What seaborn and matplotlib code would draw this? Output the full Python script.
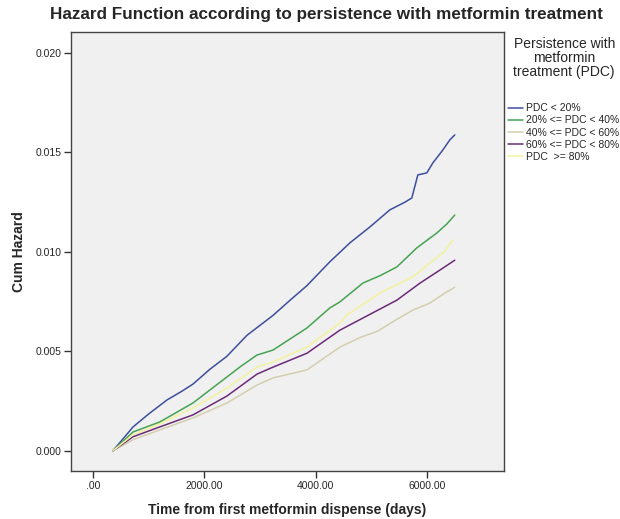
import matplotlib
matplotlib.use("Agg")
import matplotlib.pyplot as plt
import seaborn as sns
import pandas as pd

# days since first dispense / cumulative hazard
days_lt20 = [359, 717, 1000, 1327, 1600, 1794, 2100, 2404, 2762, 3229, 3550, 3839,
             4251, 4610, 4969, 5327, 5600, 5722, 5830, 5991, 6099, 6278, 6404, 6493]
haz_lt20 = [0.0, 0.00119, 0.00185, 0.00255, 0.00300, 0.00335, 0.00410, 0.00475, 0.00580,
            0.00680, 0.00760, 0.00830, 0.00950, 0.01045, 0.01125, 0.01211, 0.01250,
            0.01271, 0.01387, 0.01397, 0.01447, 0.01512, 0.01563, 0.01588]

days_20_40 = [359, 717, 1202, 1794, 2404, 2637, 2942, 3229, 3839, 4251, 4430,
              4843, 5150, 5453, 5812, 6171, 6350, 6493]
haz_20_40 = [0.0, 0.00094, 0.00145, 0.00240, 0.00371, 0.00421, 0.00481, 0.00506,
             0.00617, 0.00718, 0.00748, 0.00843, 0.00880, 0.00924, 0.01020, 0.01095,
             0.01140, 0.01185]

days_40_60 = [359, 717, 1202, 1794, 2404, 2942, 3229, 3839, 4430, 4800, 5100,
              5450, 5740, 6045, 6300, 6493]
haz_40_60 = [0.0, 0.00055, 0.00105, 0.00165, 0.00240, 0.00330, 0.00366, 0.00406,
             0.00521, 0.00570, 0.00600, 0.00660, 0.00707, 0.00742, 0.00790, 0.00822]

days_60_80 = [359, 717, 1202, 1794, 2404, 2942, 3229, 3839, 4430, 4843, 5453,
              5865, 6224, 6493]
haz_60_80 = [0.0, 0.00070, 0.00120, 0.00180, 0.00275, 0.00385, 0.00420, 0.00490,
             0.00606, 0.00667, 0.00757, 0.00842, 0.00908, 0.00958]

days_ge80 = [359, 717, 1202, 1794, 2404, 2942, 3229, 3839, 4430, 4556, 5148,
             5740, 6045, 6300, 6458]
haz_ge80 = [0.0, 0.00080, 0.00135, 0.00215, 0.00315, 0.00421, 0.00446, 0.00521,
            0.00642, 0.00682, 0.00793, 0.00874, 0.00944, 0.01000, 0.01060]

groups = ["PDC < 20%", "20% <= PDC < 40%", "40% <= PDC < 60%",
          "60% <= PDC < 80%", "PDC  >= 80%"]
colors = ["#3d4f9c", "#45a352", "#d3cfae", "#6b2a78", "#f3f29e"]

series = [(days_lt20, haz_lt20), (days_20_40, haz_20_40), (days_40_60, haz_40_60),
          (days_60_80, haz_60_80), (days_ge80, haz_ge80)]
frames = []
for g, (d, h) in zip(groups, series):
    frames.append(pd.DataFrame({"days": d, "hazard": h, "group": g}))
df = pd.concat(frames, ignore_index=True)

sns.set_style("ticks")
plt.rcParams["font.family"] = ["Liberation Sans", "DejaVu Sans"]

fig = plt.figure(figsize=(6.2, 5.19), dpi=100)
ax = fig.add_axes([0.1145, 0.0925, 0.698, 0.846])
ax.set_facecolor("#f0f0f0")

sns.lineplot(data=df, x="days", y="hazard", hue="group", hue_order=groups,
             palette=dict(zip(groups, colors)), sort=False, estimator=None,
             linewidth=1.1, ax=ax, legend=False)

ax.set_xlim(-395, 7372)
ax.set_ylim(-0.00102, 0.02106)
ax.set_xticks([0, 2000, 4000, 6000])
ax.set_xticklabels([".00", "2000.00", "4000.00", "6000.00"])
ax.set_yticks([0.0, 0.005, 0.010, 0.015, 0.020])
ax.set_yticklabels(["0.000", "0.005", "0.010", "0.015", "0.020"])
ax.tick_params(labelsize=7.5, length=5, width=1, color="#333333", pad=2)
for s in ax.spines.values():
    s.set_color("#444444")
    s.set_linewidth(1)

ax.set_xlabel("Time from first metformin dispense (days)", fontsize=10,
              fontweight="bold", labelpad=9)
ax.set_ylabel("Cum Hazard", fontsize=10, fontweight="bold", labelpad=7)
fig.text(0.527, 0.973, "Hazard Function according to persistence with metformin treatment",
         ha="center", va="center", fontsize=12.3, fontweight="bold")

fig.text(0.91, 0.888, "Persistence with\nmetformin\ntreatment (PDC)",
         ha="center", va="center", fontsize=10, linespacing=1.0)
handles = [plt.Line2D([], [], color=c, lw=1.1) for c in colors]
leg = ax.legend(handles, groups, loc="upper left", bbox_to_anchor=(1.0, 0.848),
                frameon=False, fontsize=7.5, handlelength=1.4, handletextpad=0.3,
                labelspacing=0.2, borderaxespad=0.05)

fig.savefig("out.png", dpi=100)
